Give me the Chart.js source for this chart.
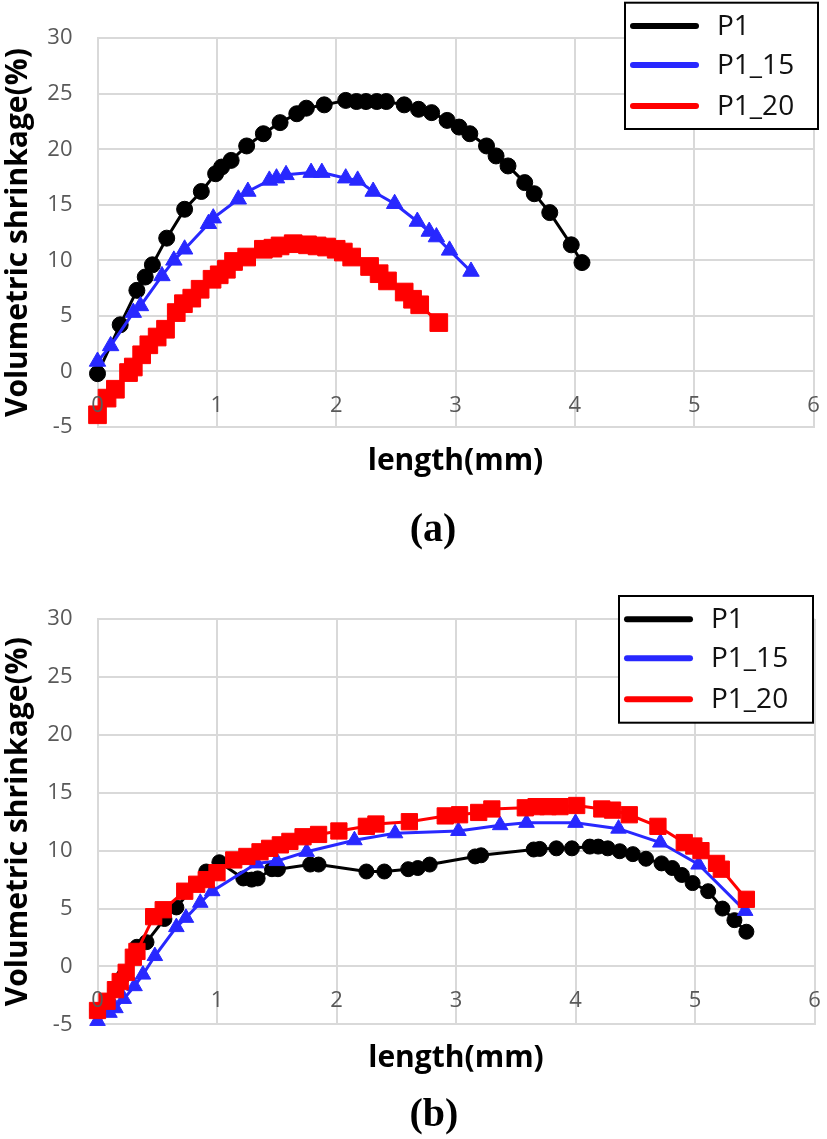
<!DOCTYPE html>
<html>
<head>
<meta charset="utf-8">
<script src="https://cdn.jsdelivr.net/npm/chart.js@4.4.1/dist/chart.umd.min.js"></script>
<style>
  body { margin: 0; background: #ffffff; }
  #page { position: relative; width: 827px; height: 1139px; overflow: hidden; }
  .panel { position: absolute; left: 0; }
  .caption {
    position: absolute; width: 200px; text-align: center;
    font-family: "Liberation Serif", "Times New Roman", serif;
    font-weight: bold; font-size: 40px; line-height: 40px; color: #000;
  }
</style>
</head>
<body>
<div id="page">
  <canvas id="chartA" class="panel" style="top:0px" width="827" height="570"></canvas>
  <canvas id="chartB" class="panel" style="top:570px" width="827" height="569"></canvas>
  <div class="caption" style="left:333px; top:508px;">(a)</div>
  <div class="caption" style="left:334px; top:1093px;">(b)</div>
</div>
<script>
// axis ticks
const xTickValues = [0, 1, 2, 3, 4, 5, 6];
const yTickValues = [-5, 0, 5, 10, 15, 20, 25, 30];
const seriesNames = ["P1", "P1_15", "P1_20"];

// (a) values
const p1aX = [0.00, 0.19, 0.33, 0.40, 0.46, 0.58, 0.73, 0.87, 0.99, 1.04, 1.12, 1.25, 1.39, 1.53, 1.67, 1.75, 1.90, 2.08, 2.17, 2.25, 2.34, 2.42, 2.57, 2.69, 2.80, 2.93, 3.03, 3.12, 3.26, 3.34, 3.44, 3.58, 3.66, 3.79, 3.97, 4.06];
const p1aY = [-0.2, 4.2, 7.3, 8.5, 9.6, 12.0, 14.6, 16.2, 17.8, 18.4, 19.0, 20.3, 21.4, 22.4, 23.2, 23.7, 24.0, 24.4, 24.3, 24.3, 24.3, 24.3, 24.0, 23.6, 23.3, 22.6, 22.0, 21.4, 20.3, 19.4, 18.5, 17.0, 16.0, 14.3, 11.4, 9.8];

const p15aX = [0.00, 0.11, 0.30, 0.36, 0.54, 0.64, 0.73, 0.93, 0.97, 1.18, 1.26, 1.44, 1.50, 1.58, 1.79, 1.88, 2.08, 2.18, 2.31, 2.49, 2.68, 2.78, 2.84, 2.95, 3.13];
const p15aY = [0.9, 2.3, 5.3, 5.9, 8.6, 10.0, 11.0, 13.3, 13.8, 15.5, 16.2, 17.2, 17.4, 17.7, 17.9, 17.9, 17.4, 17.2, 16.2, 15.1, 13.5, 12.6, 12.1, 10.9, 9.0];

const p20aX = [0.00, 0.08, 0.15, 0.26, 0.30, 0.37, 0.43, 0.50, 0.57, 0.66, 0.72, 0.79, 0.86, 0.96, 1.02, 1.08, 1.14, 1.25, 1.39, 1.47, 1.53, 1.64, 1.76, 1.84, 1.92, 2.00, 2.06, 2.13, 2.28, 2.36, 2.43, 2.57, 2.64, 2.70, 2.86];
const p20aY = [-3.9, -2.4, -1.6, -0.1, 0.4, 1.5, 2.4, 3.1, 3.8, 5.3, 6.1, 6.6, 7.4, 8.3, 8.7, 9.2, 9.9, 10.3, 11.0, 11.1, 11.3, 11.5, 11.4, 11.3, 11.2, 11.0, 10.75, 10.3, 9.45, 8.8, 8.15, 7.15, 6.5, 6.0, 4.4];

// (b) values
const p1bX = [0.00, 0.08, 0.15, 0.22, 0.33, 0.41, 0.56, 0.66, 0.91, 1.02, 1.22, 1.29, 1.34, 1.46, 1.51, 1.78, 1.85, 2.25, 2.40, 2.60, 2.68, 2.78, 3.16, 3.21, 3.65, 3.70, 3.84, 3.97, 4.12, 4.19, 4.27, 4.37, 4.48, 4.59, 4.72, 4.81, 4.89, 4.98, 5.11, 5.23, 5.33, 5.43];
const p1bY = [-3.8, -3.0, -2.0, -0.8, 1.7, 2.1, 4.1, 5.1, 8.2, 9.0, 7.6, 7.5, 7.6, 8.4, 8.4, 8.8, 8.8, 8.2, 8.2, 8.4, 8.5, 8.8, 9.5, 9.6, 10.1, 10.15, 10.2, 10.2, 10.35, 10.35, 10.2, 9.95, 9.7, 9.3, 8.9, 8.5, 7.9, 7.2, 6.5, 5.0, 4.0, 3.0];

const p15bX = [0.00, 0.10, 0.15, 0.22, 0.31, 0.38, 0.48, 0.66, 0.74, 0.86, 0.96, 1.33, 1.50, 1.75, 2.15, 2.49, 3.02, 3.37, 3.59, 4.00, 4.36, 4.71, 5.03, 5.42];
const p15bY = [-4.7, -4.0, -3.6, -2.8, -1.7, -0.7, 0.9, 3.4, 4.2, 5.5, 6.5, 8.9, 9.1, 9.9, 10.9, 11.5, 11.7, 12.2, 12.4, 12.4, 11.9, 10.7, 8.8, 4.8];

const p20bX = [0.00, 0.08, 0.15, 0.19, 0.24, 0.30, 0.33, 0.47, 0.55, 0.73, 0.83, 0.91, 1.00, 1.14, 1.25, 1.36, 1.44, 1.53, 1.61, 1.72, 1.85, 2.02, 2.25, 2.33, 2.61, 2.91, 3.03, 3.19, 3.30, 3.58, 3.67, 3.77, 3.87, 4.01, 4.22, 4.31, 4.45, 4.69, 4.91, 4.99, 5.05, 5.18, 5.22, 5.43];
const p20bY = [-3.8, -3.0, -2.0, -1.3, -0.5, 0.8, 1.3, 4.3, 4.9, 6.5, 7.1, 7.5, 8.1, 9.2, 9.5, 9.9, 10.2, 10.5, 10.8, 11.2, 11.4, 11.7, 12.1, 12.3, 12.5, 13.0, 13.1, 13.3, 13.6, 13.7, 13.8, 13.8, 13.8, 13.9, 13.6, 13.5, 13.1, 12.1, 10.7, 10.4, 10.0, 8.9, 8.4, 5.8];

const FONT = "'Open Sans', 'DejaVu Sans', sans-serif";
const GRID = "#d9d9d9";
const TICK_COLOR = "#595959";
const COLORS = ["#000000", "#2828ff", "#ff0000"];

/**
 * Builds one line dataset from x and y arrays
 */
function makeSet(i, xs, ys, style, radius) {
    return {
        label: seriesNames[i],
        data: xs.map((x, k) => ({ x: x, y: ys[k] })),
        borderColor: COLORS[i],
        backgroundColor: COLORS[i],
        borderWidth: 3,
        pointStyle: style,
        pointRadius: radius,
        pointBorderWidth: 1,
        pointBorderColor: COLORS[i],
        pointBackgroundColor: COLORS[i],
        tension: 0,
        clip: false,
        order: 3 - i
    };
}

// x tick labels sit just below the y = 0 line, like the Excel chart
const zeroAxisLabels = {
    id: "zeroAxisLabels",
    afterDatasetsDraw(chart) {
        const ctx = chart.ctx;
        const xs = chart.scales.x;
        const ys = chart.scales.y;
        const yPix = ys.getPixelForValue(0) + 34.5;
        ctx.save();
        ctx.font = "22px " + FONT;
        ctx.fillStyle = TICK_COLOR;
        ctx.textAlign = "center";
        ctx.textBaseline = "middle";
        xTickValues.forEach(v => {
            ctx.fillText(String(v), xs.getPixelForValue(v), yPix);
        });
        ctx.restore();
    }
};

// boxed legend drawn over the top right of the plot
const boxLegend = {
    id: "boxLegend",
    afterDraw(chart, args, opts) {
        const ctx = chart.ctx;
        const b = opts.box;
        ctx.save();
        ctx.fillStyle = "#ffffff";
        ctx.fillRect(b.x, b.y, b.w, b.h);
        ctx.lineWidth = 2;
        ctx.strokeStyle = "#000000";
        ctx.strokeRect(b.x, b.y, b.w, b.h);
        const rows = [23.3, 62.3, 103.3];
        chart.data.datasets.forEach((ds, i) => {
            const y = b.y + rows[i];
            ctx.beginPath();
            ctx.lineCap = "round";
            ctx.lineWidth = 6;
            ctx.strokeStyle = ds.borderColor;
            ctx.moveTo(b.x + 8, y);
            ctx.lineTo(b.x + 71, y);
            ctx.stroke();
            ctx.fillStyle = "#111111";
            ctx.font = "28px " + FONT;
            ctx.textAlign = "left";
            ctx.textBaseline = "middle";
            ctx.fillText(ds.label, b.x + 92, y + 1);
        });
        ctx.restore();
    }
};

function makeChart(id, sets, frame) {
    const ctx = document.getElementById(id).getContext("2d");
    return new Chart(ctx, {
        type: "line",
        data: { datasets: sets },
        options: {
            responsive: false,
            animation: false,
            devicePixelRatio: 1,
            layout: {
                padding: { top: frame.top, right: 12, bottom: frame.padBottom, left: 0 }
            },
            scales: {
                x: {
                    type: "linear",
                    min: 0,
                    max: 6,
                    afterBuildTicks: s => { s.ticks = xTickValues.map(v => ({ value: v })); },
                    afterFit: s => { s.height = frame.xTitleH; },
                    grid: { color: GRID, lineWidth: 2, drawTicks: false },
                    border: { color: GRID, width: 2 },
                    ticks: { display: false },
                    title: {
                        display: true,
                        text: "length(mm)",
                        color: "#000000",
                        padding: 0,
                        font: { family: FONT, size: 30, weight: "bold" }
                    }
                },
                y: {
                    type: "linear",
                    min: -5,
                    max: 30,
                    afterBuildTicks: s => { s.ticks = yTickValues.map(v => ({ value: v })); },
                    afterFit: s => { s.width = 97.5; },
                    grid: { color: GRID, lineWidth: 2, drawTicks: false },
                    border: { color: GRID, width: 2 },
                    ticks: {
                        color: TICK_COLOR,
                        padding: 25,
                        font: { family: FONT, size: 22 }
                    },
                    title: {
                        display: true,
                        text: "Volumetric shrinkage(%)",
                        color: "#000000",
                        padding: 0,
                        font: { family: FONT, size: 30, weight: "bold" }
                    }
                }
            },
            plugins: {
                legend: { display: false },
                tooltip: { enabled: false },
                boxLegend: { box: frame.legend }
            }
        },
        plugins: [zeroAxisLabels, boxLegend]
    });
}

document.fonts.load("22px 'Open Sans'").then(() => document.fonts.load("bold 30px 'Open Sans'")).finally(function () {
    makeChart("chartA", [
        makeSet(0, p1aX, p1aY, "circle", 8),
        makeSet(1, p15aX, p15aY, "triangle", 9.5),
        makeSet(2, p20aX, p20aY, "rect", 12.5)
    ], { top: 22.7, padBottom: 90.3, xTitleH: 52.7, legend: { x: 625, y: 2.7, w: 193, h: 126.3 } });

    makeChart("chartB", [
        makeSet(0, p1bX, p1bY, "circle", 7.5),
        makeSet(1, p15bX, p15bY, "triangle", 9),
        makeSet(2, p20bX, p20bY, "rect", 11.5)
    ], { top: 49, padBottom: 63, xTitleH: 51.6, legend: { x: 619, y: 26, w: 194, h: 126.7 } });
});
</script>
</body>
</html>
